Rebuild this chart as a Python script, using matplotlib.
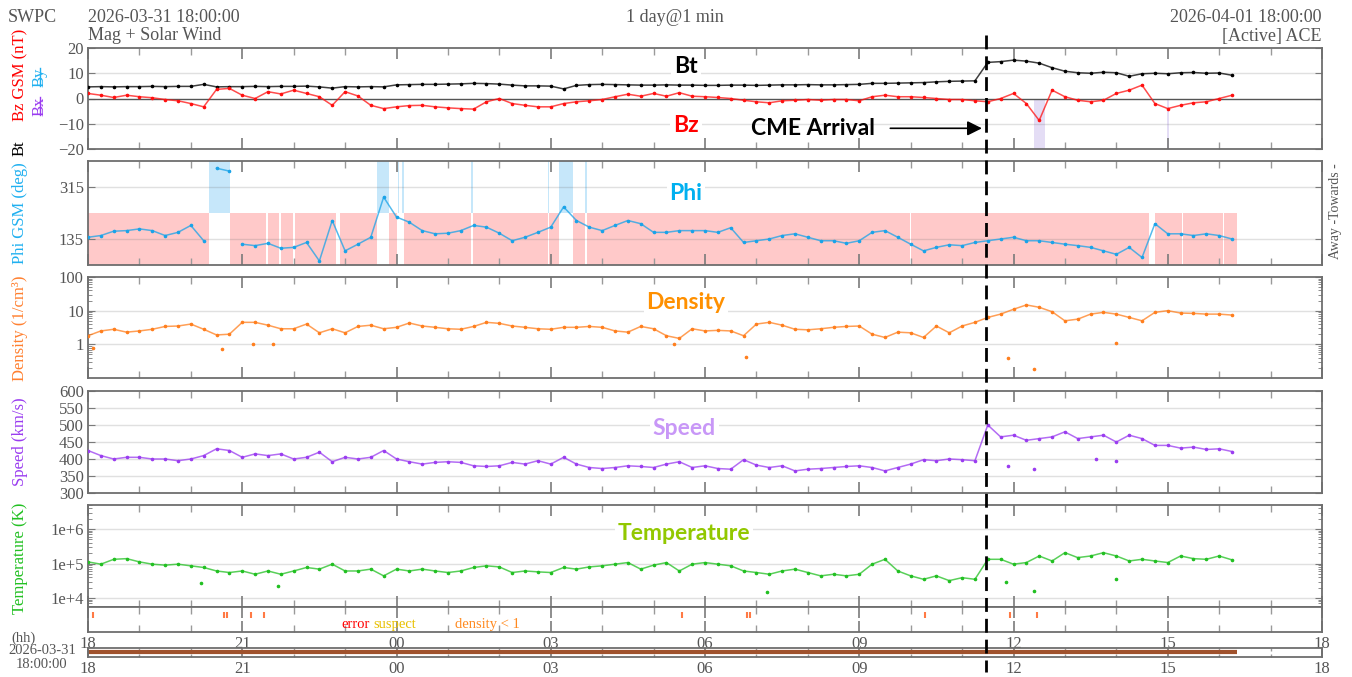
import numpy as np
import matplotlib
matplotlib.use('Agg')
import matplotlib.pyplot as plt
from matplotlib.lines import Line2D
from matplotlib.transforms import blended_transform_factory
from matplotlib.ticker import LogLocator, NullFormatter

plt.rcParams['font.family'] = ['Liberation Serif', 'DejaVu Serif']

# hours after 2026-03-31 18:00 UTC, one reading every 15 min
hours = np.arange(0, 22.5, 0.25)

bt = [4.6, 4.7, 4.6, 4.7, 4.7, 4.8, 4.7, 4.8, 4.8, 5.6, 4.6, 4.7, 4.7, 4.8, 4.7, 4.8,
      4.8, 4.9, 4.6, 4.1, 4.7, 4.6, 4.7, 4.6, 5.4, 5.5, 5.6, 5.6, 5.7, 5.8, 6.0, 5.9,
      5.7, 5.3, 5.0, 5.0, 4.9, 3.8, 5.2, 5.5, 5.6, 5.5, 5.4, 5.3, 5.3, 5.4, 5.3, 5.3,
      5.2, 5.2, 5.3, 5.3, 5.2, 5.3, 5.4, 5.4, 5.5, 5.4, 5.4, 5.5, 5.6, 6.0, 6.0, 6.1,
      6.2, 6.3, 6.6, 6.8, 6.9, 7.0, 14.3, 14.6, 15.2, 14.8, 14.0, 12.2, 10.8, 10.2, 10.0, 10.4,
      10.2, 8.8, 9.8, 10.0, 9.8, 10.2, 10.3, 10.0, 10.1, 9.2]

bz = [2.0, 1.3, 0.4, 1.3, 0.7, 0.3, -0.4, -0.9, -2.0, -3.3, 3.6, 4.0, 1.3, 0.0, 2.7, 1.8,
      3.3, 2.0, 0.7, -2.7, 2.7, 1.0, -2.7, -4.0, -3.3, -2.8, -2.7, -3.3, -3.7, -4.0, -4.2, -1.3,
      0.0, -2.0, -2.7, -3.3, -3.3, -2.0, -1.3, -0.9, -0.4, 0.7, 1.7, 0.9, 2.0, 0.9, 2.3, 0.9,
      0.7, 0.4, 0.0, -0.7, -1.3, -1.7, -0.9, -0.7, -0.4, -0.7, -0.4, -0.4, -0.9, 0.7, 1.3, 0.7,
      0.7, 0.4, 0.0, -0.4, -0.4, -0.9, -1.3, 0.0, 2.0, -2.0, -8.7, 3.3, 0.7, -0.7, -1.3, -0.7,
      2.0, 3.3, 5.3, -2.0, -4.0, -2.7, -1.7, -1.3, 0.0, 1.3]

phi = [141, 147, 162, 164, 170, 164, 147, 158, 182, 129, 380, 370, 117, 112, 120, 103,
       106, 123, 59, 199, 94, 117, 141, 280, 211, 193, 164, 153, 155, 164, 182, 176,
       155, 129, 141, 158, 176, 246, 199, 176, 164, 182, 199, 188, 158, 158, 164, 164,
       164, 158, 174, 123, 129, 135, 147, 153, 141, 129, 129, 120, 129, 158, 164, 141,
       117, 94, 106, 115, 112, 123, 129, 135, 141, 129, 129, 123, 117, 112, 106, 94,
       82, 106, 71, 188, 153, 153, 147, 153, 147, 135]

density = [1.8, 2.5, 2.8, 2.3, 2.5, 2.8, 3.4, 3.5, 4.0, 2.8, 1.9, 2.0, 4.5, 4.5, 3.7, 2.9,
           2.9, 4.0, 2.2, 2.9, 2.2, 3.4, 3.7, 2.9, 3.2, 4.3, 3.5, 3.2, 2.9, 2.8, 3.4, 4.5,
           4.2, 3.5, 3.2, 2.9, 2.8, 3.2, 3.2, 3.4, 3.2, 2.5, 2.3, 3.4, 2.9, 1.8, 1.5, 2.9,
           2.5, 2.6, 2.5, 1.8, 4.0, 4.5, 3.7, 2.8, 2.7, 2.9, 3.2, 3.4, 3.5, 2.0, 1.6, 2.3,
           2.2, 1.6, 3.5, 2.2, 3.5, 4.5, 6.3, 7.9, 11.0, 14.8, 12.6, 9.3, 5.0, 5.6, 7.9, 8.9,
           7.9, 6.3, 5.0, 8.9, 10.0, 8.5, 8.3, 7.9, 7.9, 7.4]

speed = [425, 410, 400, 405, 405, 400, 400, 395, 400, 410, 430, 425, 405, 415, 410, 415,
         400, 405, 420, 392, 405, 400, 405, 425, 400, 392, 385, 390, 392, 390, 380, 378,
         380, 390, 385, 395, 385, 405, 385, 375, 372, 375, 380, 378, 375, 385, 392, 375,
         380, 372, 370, 398, 382, 375, 380, 365, 370, 372, 375, 378, 380, 375, 365, 375,
         385, 398, 395, 400, 398, 395, 500, 465, 470, 455, 460, 465, 480, 460, 465, 470,
         450, 470, 460, 440, 440, 432, 435, 428, 430, 422]

temperature = [1.12e5, 9.6e4, 1.33e5, 1.39e5, 1.12e5, 9.6e4, 9.0e4, 9.6e4, 8.6e4, 7.7e4, 6.1e4, 5.5e4,
               6.1e4, 4.9e4, 6.1e4, 4.9e4, 6.1e4, 7.7e4, 6.9e4, 9.6e4, 6.1e4, 6.1e4, 6.9e4, 4.4e4,
               6.9e4, 6.1e4, 6.9e4, 6.1e4, 5.5e4, 6.1e4, 7.7e4, 8.6e4, 8.0e4, 5.5e4, 6.1e4, 5.75e4,
               5.5e4, 7.7e4, 6.9e4, 8.0e4, 8.6e4, 9.6e4, 1.07e5, 6.9e4, 9.0e4, 1.07e5, 6.1e4, 9.6e4,
               1.07e5, 9.6e4, 8.6e4, 6.1e4, 5.5e4, 4.9e4, 6.1e4, 6.9e4, 5.5e4, 4.4e4, 4.9e4, 4.4e4,
               4.9e4, 9.6e4, 1.33e5, 6.1e4, 4.4e4, 3.5e4, 4.4e4, 3.2e4, 3.9e4, 3.5e4, 1.33e5, 1.33e5,
               9.6e4, 1.07e5, 1.66e5, 1.19e5, 2.07e5, 1.49e5, 1.66e5, 2.07e5, 1.66e5, 1.19e5, 1.33e5, 1.19e5,
               1.07e5, 1.66e5, 1.39e5, 1.33e5, 1.66e5, 1.28e5]

# isolated outlying readings
dens_out_t = [0.1, 2.6, 3.2, 3.6, 11.4, 12.8, 17.9, 18.4, 20.0]
dens_out_v = [0.8, 0.75, 1.0, 1.0, 1.05, 0.43, 0.4, 0.19, 1.1]
speed_out_t = [17.9, 18.4, 19.6, 20.0]
speed_out_v = [380, 372, 400, 395]
temp_out_t = [2.2, 3.7, 13.2, 17.85, 18.4, 20.0]
temp_out_v = [2.8e4, 2.3e4, 1.45e4, 3.0e4, 1.6e4, 3.5e4]

# IMF sector shading (hours): pink = towards, blue = away
towards_spans = [(0, 2.35), (2.77, 3.46), (3.50, 3.71), (3.75, 3.99), (4.02, 4.82), (4.91, 5.62),
                 (5.86, 6.0), (6.15, 7.45), (7.48, 8.94), (8.97, 9.17), (9.43, 9.67), (9.70, 15.98),
                 (16.0, 20.64), (20.76, 21.28), (21.3, 22.07), (22.09, 22.35)]
away_spans = [(2.35, 2.77), (5.62, 5.86), (6.03, 6.05), (6.11, 6.14), (7.45, 7.48),
              (8.94, 8.97), (9.17, 9.43), (9.67, 9.70)]
bz_south_spans = [(18.4, 18.62), (20.98, 21.03)]
flag_times = [0.1, 2.64, 2.7, 3.17, 3.42, 11.55, 12.82, 12.88, 16.28, 17.93, 18.45]
data_end = 22.35
cme_time = 17.47
hour_labels = ['18', '21', '00', '03', '06', '09', '12', '15', '18']

W, H = 1352, 677
fig = plt.figure(figsize=(W / 100, H / 100), dpi=100)
fig.patch.set_facecolor('white')
GREY = '#555555'


def px_axes(top, bottom):
    return fig.add_axes([88 / W, 1 - bottom / H, (1322 - 88) / W, (bottom - top) / H])


def ftext(x, y, s, **kw):
    kw.setdefault('color', GREY)
    kw.setdefault('fontsize', 12)
    return fig.text(x / W, 1 - y / H, s, **kw)


def style(ax):
    ax.set_xlim(0, 24)
    ax.set_xticks(np.arange(0, 25, 3))
    ax.set_xticks(np.arange(0, 25, 1), minor=True)
    ax.tick_params(axis='x', which='major', direction='in', length=8, width=1.2,
                   top=True, bottom=True, labelbottom=False, color='#7a7a7a')
    ax.tick_params(axis='x', which='minor', direction='in', length=5, width=1,
                   top=True, bottom=True, color='#9a9a9a')
    ax.tick_params(axis='y', which='both', direction='in', left=True, right=True,
                   labelsize=12, labelcolor=GREY, color='#7a7a7a', pad=3)
    ax.tick_params(axis='y', which='major', length=5)
    ax.tick_params(axis='y', which='minor', length=3)
    for s in ax.spines.values():
        s.set_color('#6e6e6e')
        s.set_linewidth(1.3)


def hgrid(ax, vals, color=(0.45, 0.45, 0.45, 0.22)):
    for v in vals:
        ax.axhline(v, color=color, lw=1, zorder=1.5)


def big_label(ax, x, y, s, color):
    ax.text(x, y, s, color=color, fontsize=16.5, fontweight='bold', family=['Lato', 'DejaVu Sans'],
            ha='center', va='center', zorder=6,
            bbox=dict(facecolor='white', edgecolor='none', pad=2))


def trace(ax, t, v, color):
    ax.plot(t, v, color=color, lw=1.1, alpha=0.75, zorder=3)
    ax.plot(t, v, ls='none', marker='.', ms=3.2, color=color, zorder=4)


ax_mag = px_axes(48, 149)
ax_phi = px_axes(161, 265)
ax_den = px_axes(277, 378)
ax_spd = px_axes(391, 493)
ax_tmp = px_axes(505, 607)
ax_flag = px_axes(607, 632)
ax_bot = px_axes(648, 657)
for a in [ax_mag, ax_phi, ax_den, ax_spd, ax_tmp, ax_flag, ax_bot]:
    style(a)

# --- magnetic field
ax_mag.set_ylim(-20, 20)
ax_mag.set_yticks([-20, -10, 0, 10, 20])
hgrid(ax_mag, [-10, 10])
ax_mag.axhline(0, color='#555555', lw=1, zorder=1.6)
for a, b in bz_south_spans:
    ax_mag.fill_between([a, b], -20, 0, color='#e4ddf5', lw=0, zorder=1)
trace(ax_mag, hours, bt, 'black')
trace(ax_mag, hours, bz, '#ff1010')
big_label(ax_mag, 11.63, 12.8, 'Bt', 'black')
big_label(ax_mag, 11.63, -10.6, 'Bz', '#ff0000')
ax_mag.text(14.1, -11.8, 'CME Arrival', fontsize=16.5, fontweight='bold',
            family=['Lato', 'DejaVu Sans'], ha='center', va='center', zorder=6)
ax_mag.annotate('', xy=(cme_time - 0.03, -11.8), xytext=(15.55, -11.8),
                arrowprops=dict(arrowstyle='-|>', color='black', lw=1.2, mutation_scale=22),
                zorder=6)

# --- phi
ax_phi.set_ylim(45, 405)
ax_phi.set_yticks([135, 315])
for a, b in towards_spans:
    ax_phi.fill_between([a, b], 45, 225, color='#ffc9c9', lw=0, zorder=1)
for a, b in away_spans:
    ax_phi.fill_between([a, b], 225, 405, color='#c6e7fa', lw=0, zorder=1)
hgrid(ax_phi, [135, 315])
phi_arr = np.array(phi, float)
cut = np.where(np.abs(np.diff(phi_arr)) > 150)[0] + 1
ax_phi.plot(np.insert(hours, cut, np.nan), np.insert(phi_arr, cut, np.nan),
            color='#1aa3e8', lw=1.1, alpha=0.75, zorder=3)
ax_phi.plot(hours, phi_arr, ls='none', marker='.', ms=3.2, color='#1aa3e8', zorder=4)
big_label(ax_phi, 11.63, 294, 'Phi', '#00b0f0')

# --- density
ax_den.set_yscale('log')
ax_den.set_ylim(0.1, 100)
ax_den.set_yticks([1, 10, 100])
ax_den.set_yticklabels(['1', '10', '100'])
ax_den.yaxis.set_minor_locator(LogLocator(base=10, subs=np.arange(2, 10)))
ax_den.yaxis.set_minor_formatter(NullFormatter())
hgrid(ax_den, [1, 10])
trace(ax_den, hours, density, '#ff7f1e')
ax_den.plot(dens_out_t, dens_out_v, ls='none', marker='.', ms=3.2, color='#ff7f1e', zorder=4)
big_label(ax_den, 11.63, 17, 'Density', '#ff9000')

# --- speed
ax_spd.set_ylim(300, 600)
ax_spd.set_yticks(np.arange(300, 601, 50))
hgrid(ax_spd, np.arange(350, 551, 50))
trace(ax_spd, hours, speed, '#9a3cf0')
ax_spd.plot(speed_out_t, speed_out_v, ls='none', marker='.', ms=3.2, color='#9a3cf0', zorder=4)
big_label(ax_spd, 11.6, 491, 'Speed', '#c897f7')

# --- temperature
ax_tmp.set_yscale('log')
ax_tmp.set_ylim(5.5e3, 5e6)
ax_tmp.set_yticks([1e4, 1e5, 1e6])
ax_tmp.set_yticklabels(['1e+4', '1e+5', '1e+6'])
ax_tmp.yaxis.set_minor_locator(LogLocator(base=10, subs=np.arange(2, 10)))
ax_tmp.yaxis.set_minor_formatter(NullFormatter())
hgrid(ax_tmp, [1e4, 1e5, 1e6])
trace(ax_tmp, hours, temperature, '#22c022')
ax_tmp.plot(temp_out_t, temp_out_v, ls='none', marker='.', ms=3.2, color='#22c022', zorder=4)
big_label(ax_tmp, 11.6, 7.6e5, 'Temperature', '#92c800')

# --- quality flags
ax_flag.set_ylim(0, 1)
ax_flag.set_yticks([])
ax_flag.plot(flag_times, [0.7] * len(flag_times), ls='none', marker='|', ms=5, mew=1.5,
             color='#ff7a45')
ax_flag.text(5.2, 0.3, 'error', color='#ff0000', fontsize=10.5, ha='center', va='center')
ax_flag.text(5.97, 0.3, 'suspect', color='#e8c000', fontsize=10.5, ha='center', va='center')
ax_flag.text(7.76, 0.3, 'density < 1', color='#ff8a20', fontsize=10.5, ha='center', va='center')
ax_flag.tick_params(axis='x', which='major', labelbottom=True, labelsize=12, labelcolor=GREY, pad=3)
ax_flag.set_xticklabels(hour_labels)

# --- data coverage strip
ax_bot.set_ylim(0, 1)
ax_bot.set_yticks([])
ax_bot.plot([0, data_end], [0.55, 0.55], color='#a0522d', lw=3, solid_capstyle='butt')
ax_bot.tick_params(axis='x', which='major', labelbottom=True, labelsize=12, labelcolor=GREY,
                   pad=3, length=4)
ax_bot.tick_params(axis='x', which='minor', length=2)
ax_bot.set_xticklabels(hour_labels)

# --- header and side labels
ftext(8, 18, 'SWPC', ha='left', va='center', fontsize=13)
ftext(88, 18, '2026-03-31 18:00:00', ha='left', va='center', fontsize=13)
ftext(88, 36, 'Mag + Solar Wind', ha='left', va='center', fontsize=13)
ftext(675, 18, '1 day@1 min', ha='center', va='center', fontsize=13)
ftext(1322, 18, '2026-04-01 18:00:00', ha='right', va='center', fontsize=13)
ftext(1322, 36, '[Active] ACE', ha='right', va='center', fontsize=13)

ftext(20, 75, 'Bz GSM (nT)', color='#ff0000', rotation=90, ha='center', va='center')
ftext(20, 148, 'Bt', color='black', rotation=90, ha='center', va='center')
ftext(40, 77, 'By', color='#20b0f0', rotation=90, ha='center', va='center')
ftext(40, 106, 'Bx', color='#9a3cf0', rotation=90, ha='center', va='center')
fig.add_artist(Line2D([40 / W, 40 / W], [1 - 68 / H, 1 - 86 / H], color='#20b0f0', lw=1))
fig.add_artist(Line2D([40 / W, 40 / W], [1 - 97 / H, 1 - 115 / H], color='#9a3cf0', lw=1))
ftext(20, 213, 'Phi GSM (deg)', color='#20b0f0', rotation=90, ha='center', va='center')
ftext(20, 328, 'Density (1/cm³)', color='#ff8030', rotation=90, ha='center', va='center')
ftext(20, 442, 'Speed (km/s)', color='#9a3cf0', rotation=90, ha='center', va='center')
ftext(20, 558, 'Temperature (K)', color='#22c022', rotation=90, ha='center', va='center')
ftext(1336, 211, 'Away -Towards -', rotation=90, ha='center', va='center', fontsize=10)

ftext(24, 638, '(hh)', ha='center', va='center', fontsize=10.5)
ftext(42, 651, '2026-03-31', ha='center', va='center', fontsize=10.5)
ftext(42, 664, '18:00:00', ha='center', va='center', fontsize=10.5)

# CME arrival marker through all panels
tr = blended_transform_factory(ax_mag.transData, fig.transFigure)
fig.add_artist(Line2D([cme_time, cme_time], [1 - 35 / H, 1 - 672 / H], transform=tr,
                      color='black', lw=2, dashes=(5, 2.5), zorder=10))

fig.savefig('out.png', dpi=100)
